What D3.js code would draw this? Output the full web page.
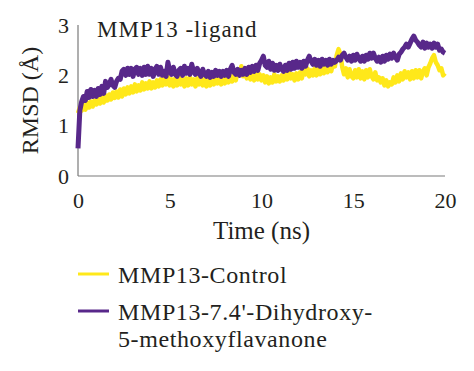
<!DOCTYPE html>
<html><head><meta charset="utf-8">
<script src="https://cdn.jsdelivr.net/npm/d3@7"></script>
<style>
html,body{margin:0;padding:0;background:#fff;}
text{font-family:"Liberation Serif","Times New Roman",serif;fill:#231f20;}
</style></head>
<body>
<svg id="chart" width="474" height="371"></svg>
<script>
// ---- data ----
const title = "MMP13 -ligand";
const xLabel = "Time (ns)";
const yLabel = "RMSD (Å)";
const xTicks = [0, 5, 10, 15, 20];
const yTicks = [0, 1, 2, 3];
const seriesNames = ["MMP13-Control", "MMP13-7.4'-Dihydroxy-5-methoxyflavanone"];
const legendLines = [["MMP13-Control"], ["MMP13-7.4'-Dihydroxy-", "5-methoxyflavanone"]];
const timeStep = 0.1; // ns
// MMP13-Control RMSD (Å), one value per 0.1 ns from 0 to 20 ns
const control = [
1.25,1.36,1.30,1.42,1.32,1.46,1.36,1.48,1.38,1.50,
1.42,1.54,1.44,1.58,1.46,1.60,1.50,1.62,1.52,1.66,
1.55,1.68,1.56,1.72,1.58,1.74,1.62,1.76,1.64,1.78,
1.66,1.82,1.68,1.80,1.70,1.86,1.72,1.84,1.74,1.88,
1.74,1.86,1.76,1.90,1.78,1.92,1.80,1.94,1.82,1.98,
1.80,1.92,1.78,1.94,1.80,1.96,1.82,1.92,1.78,1.94,
1.80,1.96,1.82,1.92,1.78,1.94,1.82,1.96,1.80,1.92,
1.78,1.90,1.80,1.94,1.82,1.98,1.84,1.96,1.82,1.98,
1.84,2.00,1.86,1.98,1.88,2.02,1.90,2.08,2.02,2.18,
1.98,2.08,1.94,2.06,1.92,2.04,1.90,2.06,1.92,2.02,
1.90,2.00,1.86,1.98,1.84,1.96,1.86,2.02,1.88,1.98,
1.88,2.00,1.90,2.04,1.92,2.06,1.94,2.02,1.90,2.04,
1.92,2.06,1.94,2.12,2.02,2.14,1.98,2.10,2.00,2.14,
2.00,2.16,2.02,2.18,2.04,2.20,2.06,2.22,2.08,2.24,
2.18,2.40,2.52,2.42,2.16,2.02,2.14,1.96,2.12,1.98,
1.94,2.10,1.96,2.12,1.94,2.08,1.92,2.10,1.96,2.12,
1.98,1.92,2.06,1.90,1.96,1.86,1.94,1.80,1.90,1.78,
1.86,1.82,1.96,1.86,2.00,1.88,2.04,1.92,2.08,1.96,
2.06,1.92,2.08,1.94,2.10,1.96,2.10,1.94,2.08,2.14,
2.00,2.16,2.24,2.34,2.40,2.26,2.20,2.10,2.14,2.00,
2.04];
// MMP13-7.4'-Dihydroxy-5-methoxyflavanone RMSD (Å)
const ligand = [
0.55,1.30,1.48,1.58,1.50,1.68,1.56,1.72,1.58,1.70,
1.58,1.74,1.62,1.78,1.64,1.88,1.76,1.82,1.92,1.80,
1.76,1.88,1.94,1.92,2.08,2.12,2.00,2.14,2.02,2.14,
1.98,2.12,2.16,2.02,2.14,2.00,2.16,2.02,2.18,2.02,
2.14,1.98,2.12,2.18,2.02,2.16,2.00,2.08,1.98,2.26,
2.08,2.02,2.16,2.02,1.98,2.10,2.14,2.00,2.18,2.04,
2.14,2.02,2.22,2.08,2.02,2.14,2.04,1.98,2.12,2.02,
1.98,2.08,1.96,2.06,1.98,2.10,2.00,2.08,1.98,2.08,
2.00,2.10,1.98,2.12,2.20,2.06,2.02,2.12,2.00,2.10,
2.02,2.14,2.02,2.16,2.06,2.18,2.08,2.20,2.10,2.24,
2.30,2.38,2.20,2.16,2.28,2.12,2.24,2.10,2.20,2.10,
2.22,2.12,2.08,2.20,2.10,2.24,2.12,2.26,2.14,2.28,
2.16,2.26,2.14,2.28,2.18,2.30,2.38,2.28,2.22,2.32,
2.20,2.30,2.18,2.32,2.22,2.30,2.20,2.32,2.22,2.30,
2.26,2.30,2.36,2.30,2.40,2.44,2.36,2.30,2.38,2.28,
2.40,2.30,2.42,2.34,2.28,2.38,2.28,2.40,2.32,2.44,
2.34,2.44,2.34,2.28,2.36,2.26,2.38,2.28,2.40,2.32,
2.42,2.34,2.44,2.36,2.30,2.42,2.46,2.52,2.56,2.62,
2.56,2.64,2.72,2.78,2.70,2.66,2.60,2.56,2.66,2.54,
2.64,2.56,2.62,2.54,2.64,2.56,2.62,2.50,2.52,2.46,
2.44];
const colors = ["#ffe81a", "#58288a"];

// ---- chart ----
const svg = d3.select("#chart");
const x = d3.scaleLinear().domain([0, 20]).range([78, 445]);
const y = d3.scaleLinear().domain([0, 3]).range([176, 25]);

const axisColor = "#7a7a7a";
const xAxis = svg.append("g").attr("transform", `translate(0,${y(0)})`)
  .call(d3.axisBottom(x).tickValues(xTicks).tickFormat(d3.format("d")).tickSize(0).tickPadding(12));
const yAxis = svg.append("g").attr("transform", `translate(${x(0)},0)`)
  .call(d3.axisLeft(y).tickValues(yTicks).tickFormat(d3.format("d")).tickSize(0).tickPadding(9));
[xAxis, yAxis].forEach(g => {
  g.attr("font-family", null);
  g.select(".domain").attr("stroke", axisColor).attr("stroke-width", 1.2);
  g.selectAll("text").style("font-size", "22px").attr("fill", "#231f20");
});
xAxis.selectAll("text").attr("dy", "0.9em");
yAxis.select(".domain").attr("d", `M0,${y(3)}V${y(0)}`);
xAxis.select(".domain").attr("d", `M${x(0)},0H${x(20)}`);

const line = d3.line().x((d, i) => x(i * timeStep)).y(d => y(d));
svg.append("path").datum(control).attr("d", line)
  .attr("fill", "none").attr("stroke", colors[0]).attr("stroke-width", 4.5).attr("stroke-linejoin", "round");
svg.append("path").datum(ligand).attr("d", line)
  .attr("fill", "none").attr("stroke", colors[1]).attr("stroke-width", 5).attr("stroke-linejoin", "round");

svg.append("text").attr("x", 97).attr("y", 37).style("font-size", "23px")
  .style("letter-spacing", "1px").text(title);
svg.append("text").attr("x", (x(0) + x(20)) / 2).attr("y", 239).attr("text-anchor", "middle")
  .style("font-size", "25px").text(xLabel);
svg.append("text").attr("transform", `translate(38,${(y(0) + y(3)) / 2})rotate(-90)`)
  .attr("text-anchor", "middle").style("font-size", "24px").text(yLabel);

// legend
const legY = [274, 311];
const baseY = [283, 320];
legendLines.forEach((lines, i) => {
  svg.append("line").attr("x1", 78).attr("x2", 109).attr("y1", legY[i]).attr("y2", legY[i])
    .attr("stroke", colors[i]).attr("stroke-width", 3);
  lines.forEach((s, j) => {
    svg.append("text").attr("x", 118).attr("y", baseY[i] + j * 27)
      .style("font-size", "24px").style("letter-spacing", "0.6px").text(s);
  });
});
</script>
</body></html>
